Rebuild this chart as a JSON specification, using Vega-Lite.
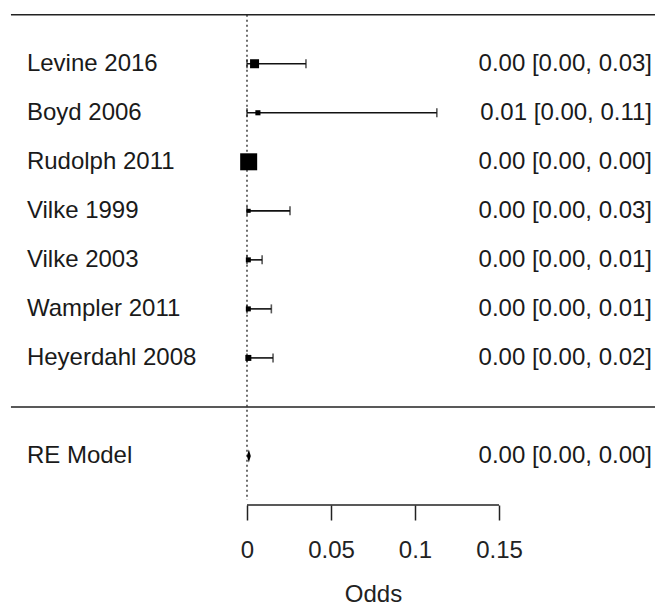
{
  "$schema": "https://vega.github.io/schema/vega-lite/v6.json",
  "width": 655,
  "height": 505,
  "padding": 0,
  "autosize": {"type": "pad"},
  "background": "white",
  "config": {
    "view": {"stroke": null},
    "font": "Liberation Sans",
    "axisX": {"domain": false, "grid": false, "tickSize": 15, "tickWidth": 1.5, "tickColor": "#222",
      "labelFontSize": 24, "labelPadding": 18, "labelColor": "#222", "labelFlush": false, "labelOverlap": false,
      "titleFontSize": 24, "titleFontWeight": "normal", "titleColor": "#222", "titlePadding": 20}
  },
  "datasets": {
    "rows": [
      {"label": "Levine 2016", "row": 7, "est": 0.0045, "lo": 0.0, "hi": 0.0351, "weight": 16.5, "txt": "0.00 [0.00, 0.03]", "type": "study"},
      {"label": "Boyd 2006", "row": 6, "est": 0.0065, "lo": 0.0, "hi": 0.113, "weight": 5.3, "txt": "0.01 [0.00, 0.11]", "type": "study"},
      {"label": "Rudolph 2011", "row": 5, "est": 0.001, "lo": 0.0003, "hi": 0.0025, "weight": 58.7, "txt": "0.00 [0.00, 0.00]", "type": "study"},
      {"label": "Vilke 1999", "row": 4, "est": 0.001, "lo": 0.0, "hi": 0.0256, "weight": 3.3, "txt": "0.00 [0.00, 0.03]", "type": "study"},
      {"label": "Vilke 2003", "row": 3, "est": 0.0008, "lo": 0.0, "hi": 0.009, "weight": 5.1, "txt": "0.00 [0.00, 0.01]", "type": "study"},
      {"label": "Wampler 2011", "row": 2, "est": 0.0008, "lo": 0.0, "hi": 0.0145, "weight": 5.1, "txt": "0.00 [0.00, 0.01]", "type": "study"},
      {"label": "Heyerdahl 2008", "row": 1, "est": 0.0008, "lo": 0.0, "hi": 0.0155, "weight": 7.3, "txt": "0.00 [0.00, 0.02]", "type": "study"},
      {"label": "RE Model", "row": -1, "est": 0.0011, "lo": 0.0002, "hi": 0.002, "weight": null, "txt": "0.00 [0.00, 0.00]", "type": "pooled"}
    ],
    "hlines": [{"row": 8}, {"row": 0}],
    "one": [{"k": 1}]
  },
  "layer": [
    {
      "data": {"name": "hlines"},
      "mark": {"type": "rule", "color": "#222", "strokeWidth": 1.5},
      "encoding": {
        "x": {"datum": -0.1405, "type": "quantitative", "title": "Odds", "scale": {"domain": [-0.14702, 0.24286], "nice": false, "zero": false},
          "axis": {"values": [0, 0.05, 0.1, 0.15], "title": "Odds", "labelExpr": "format(datum.value, '~g')", "titleX": 373}},
        "x2": {"datum": 0.24286},
        "y": {"field": "row", "type": "quantitative", "scale": {"domain": [-2, 8.3], "nice": false, "zero": false}, "axis": null}
      }
    },
    {
      "data": {"name": "one"},
      "mark": {"type": "rule", "color": "#222", "strokeWidth": 1.3, "strokeDash": [2, 3]},
      "encoding": {
        "x": {"datum": 0, "type": "quantitative", "title": "Odds", "axis": {"values": [0, 0.05, 0.1, 0.15]}},
        "y": {"datum": 8, "type": "quantitative", "axis": null},
        "y2": {"datum": -1.9}
      }
    },
    {
      "data": {"name": "one"},
      "mark": {"type": "rule", "color": "#222", "strokeWidth": 1.5},
      "encoding": {
        "x": {"datum": 0, "type": "quantitative", "title": "Odds", "axis": {"values": [0, 0.05, 0.1, 0.15]}},
        "x2": {"datum": 0.15},
        "y": {"datum": -2, "type": "quantitative", "axis": null}
      }
    },
    {
      "data": {"name": "rows"},
      "transform": [{"filter": "datum.type == 'study'"}],
      "mark": {"type": "rule", "color": "#111", "strokeWidth": 1.6},
      "encoding": {
        "x": {"field": "lo", "type": "quantitative", "title": "Odds", "axis": {"values": [0, 0.05, 0.1, 0.15]}},
        "x2": {"field": "hi"},
        "y": {"field": "row", "type": "quantitative", "axis": null}
      }
    },
    {
      "data": {"name": "rows"},
      "transform": [{"filter": "datum.type == 'study'"}],
      "mark": {"type": "tick", "orient": "vertical", "color": "#111", "size": 9, "thickness": 1.6},
      "encoding": {
        "x": {"field": "lo", "type": "quantitative", "title": "Odds", "axis": {"values": [0, 0.05, 0.1, 0.15]}},
        "y": {"field": "row", "type": "quantitative", "axis": null}
      }
    },
    {
      "data": {"name": "rows"},
      "transform": [{"filter": "datum.type == 'study'"}],
      "mark": {"type": "tick", "orient": "vertical", "color": "#111", "size": 9, "thickness": 1.6},
      "encoding": {
        "x": {"field": "hi", "type": "quantitative", "title": "Odds", "axis": {"values": [0, 0.05, 0.1, 0.15]}},
        "y": {"field": "row", "type": "quantitative", "axis": null}
      }
    },
    {
      "data": {"name": "rows"},
      "transform": [{"filter": "datum.type == 'study'"}],
      "mark": {"type": "square", "color": "black", "filled": true, "opacity": 1},
      "encoding": {
        "x": {"field": "est", "type": "quantitative", "title": "Odds", "axis": {"values": [0, 0.05, 0.1, 0.15]}},
        "y": {"field": "row", "type": "quantitative", "axis": null},
        "size": {"field": "weight", "type": "quantitative", "scale": {"domain": [0, 58.7], "range": [0, 289], "zero": true}, "legend": null}
      }
    },
    {
      "data": {"name": "rows"},
      "transform": [{"filter": "datum.type == 'pooled'"}],
      "mark": {"type": "point", "shape": "M0,-1L0.3,0L0,1L-0.3,0Z", "size": 169, "filled": true, "color": "black", "opacity": 1},
      "encoding": {
        "x": {"field": "est", "type": "quantitative", "title": "Odds", "axis": {"values": [0, 0.05, 0.1, 0.15]}},
        "y": {"field": "row", "type": "quantitative", "axis": null}
      }
    },
    {
      "data": {"name": "rows"},
      "mark": {"type": "text", "align": "left", "baseline": "middle", "fontSize": 24, "color": "#1a1a1a"},
      "encoding": {
        "x": {"datum": -0.131, "type": "quantitative", "title": "Odds", "axis": {"values": [0, 0.05, 0.1, 0.15]}},
        "y": {"field": "row", "type": "quantitative", "axis": null},
        "text": {"field": "label"}
      }
    },
    {
      "data": {"name": "rows"},
      "mark": {"type": "text", "align": "right", "baseline": "middle", "fontSize": 24, "color": "#1a1a1a"},
      "encoding": {
        "x": {"datum": 0.2411, "type": "quantitative", "title": "Odds", "axis": {"values": [0, 0.05, 0.1, 0.15]}},
        "y": {"field": "row", "type": "quantitative", "axis": null},
        "text": {"field": "txt"}
      }
    }
  ]
}
